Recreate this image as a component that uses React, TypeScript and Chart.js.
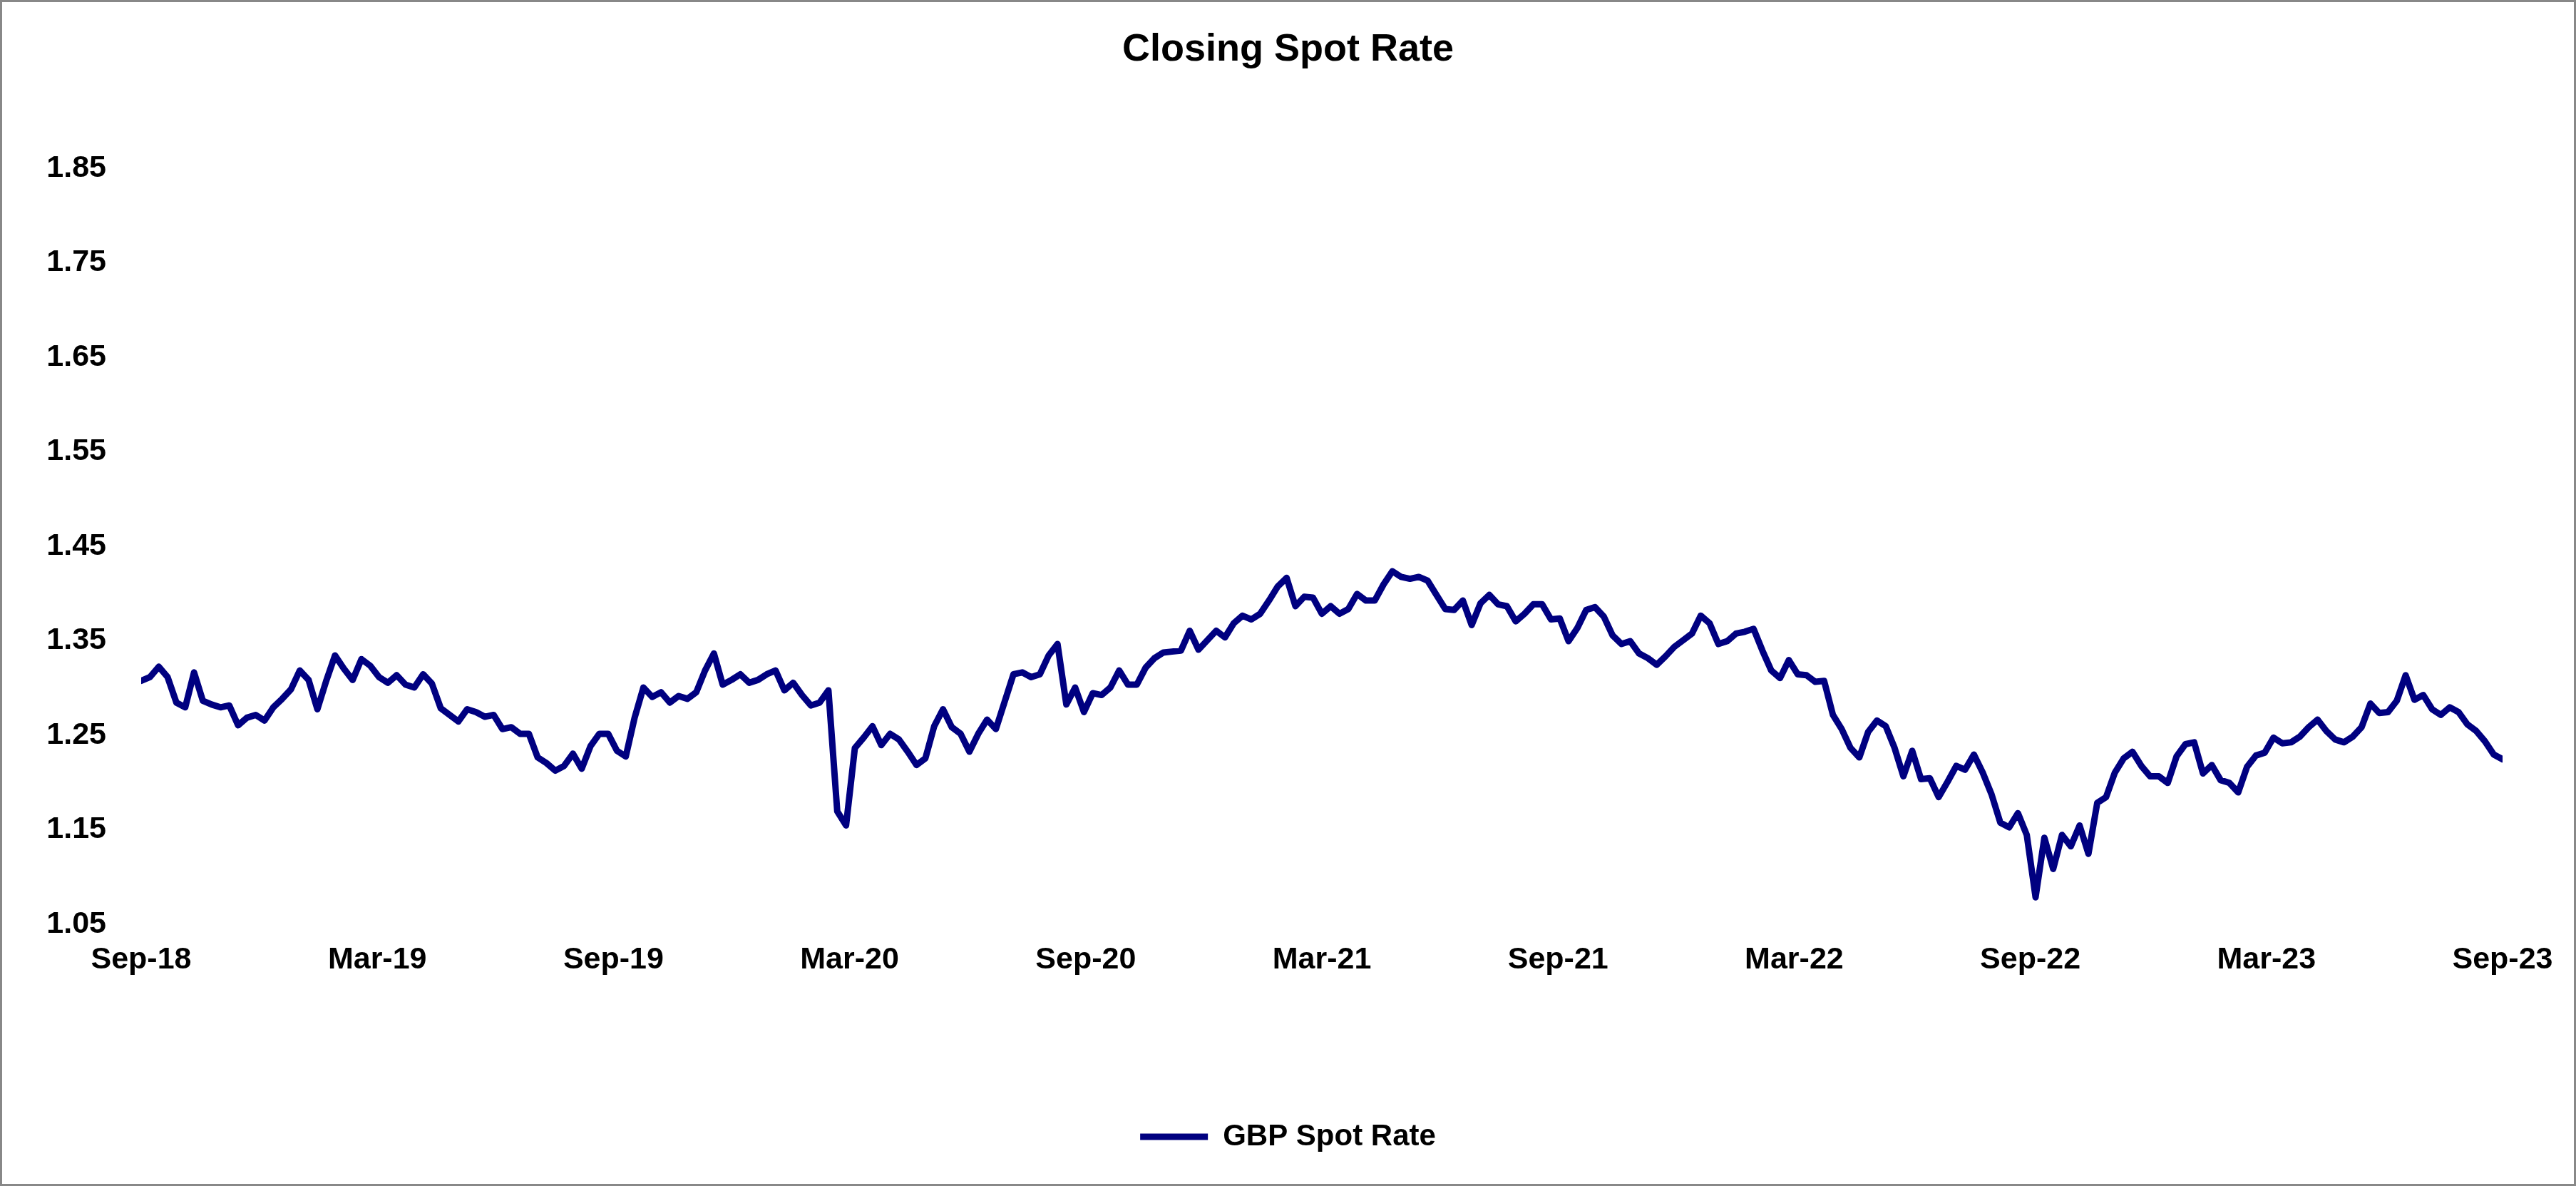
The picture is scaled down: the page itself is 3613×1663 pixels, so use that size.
import { useEffect, useRef } from "react";
import { Chart, registerables } from "chart.js";

Chart.register(...registerables);

const TITLE = "Closing Spot Rate";
const SERIES_LABEL = "GBP Spot Rate";

// x-axis tick labels (every 6 months) and their position in months since Sep-18
const X_TICK_LABELS = ["Sep-18", "Mar-19", "Sep-19", "Mar-20", "Sep-20", "Mar-21", "Sep-21", "Mar-22", "Sep-22", "Mar-23", "Sep-23"];
const X_TICK_MONTHS = [0, 6, 12, 18, 24, 30, 36, 42, 48, 54, 60];

// y-axis tick values
const Y_TICKS = [1.05, 1.15, 1.25, 1.35, 1.45, 1.55, 1.65, 1.75, 1.85];

// GBP spot rate, roughly weekly closes Sep-18 .. Sep-23
const GBP_SPOT_RATE = [
  1.303, 1.307, 1.318, 1.307, 1.280, 1.275, 1.312, 1.282, 1.278, 1.275,
  1.277, 1.256, 1.264, 1.267, 1.261, 1.275, 1.284, 1.294, 1.314, 1.304,
  1.273, 1.303, 1.330, 1.316, 1.304, 1.326, 1.319, 1.307, 1.301, 1.309,
  1.299, 1.296, 1.310, 1.300, 1.274, 1.267, 1.260, 1.273, 1.270, 1.265,
  1.267, 1.252, 1.254, 1.247, 1.247, 1.222, 1.216, 1.208, 1.213, 1.226,
  1.210, 1.234, 1.247, 1.247, 1.229, 1.223, 1.264, 1.296, 1.286, 1.291,
  1.280, 1.287, 1.284, 1.291, 1.314, 1.332, 1.299, 1.304, 1.310, 1.301,
  1.304, 1.310, 1.314, 1.293, 1.301, 1.288, 1.277, 1.280, 1.293, 1.165,
  1.150, 1.232, 1.243, 1.255, 1.235, 1.247, 1.241, 1.228, 1.214, 1.221,
  1.255, 1.273, 1.254, 1.247, 1.228, 1.247, 1.262, 1.252, 1.281, 1.310,
  1.312, 1.307, 1.310, 1.330, 1.342, 1.278, 1.296, 1.270, 1.290, 1.288,
  1.296, 1.314, 1.299, 1.299, 1.317, 1.327, 1.333, 1.334, 1.335, 1.356,
  1.336, 1.346, 1.356, 1.349, 1.364, 1.372, 1.368, 1.374, 1.388, 1.403,
  1.412, 1.382, 1.392, 1.391, 1.374, 1.382, 1.374, 1.379, 1.395, 1.388,
  1.388, 1.405, 1.419, 1.413, 1.411, 1.413, 1.409, 1.394, 1.379, 1.378,
  1.388, 1.362, 1.385, 1.394, 1.384, 1.382, 1.366, 1.374, 1.384, 1.384,
  1.368, 1.369, 1.345, 1.359, 1.378, 1.381, 1.371, 1.351, 1.342, 1.345,
  1.332, 1.327, 1.320, 1.329, 1.339, 1.346, 1.353, 1.372, 1.364, 1.342,
  1.345, 1.353, 1.355, 1.358, 1.335, 1.314, 1.306, 1.325, 1.310, 1.309,
  1.302, 1.303, 1.267, 1.252, 1.232, 1.222, 1.249, 1.261, 1.255, 1.232,
  1.202, 1.229, 1.199, 1.200, 1.180, 1.196, 1.213, 1.209, 1.225, 1.206,
  1.183, 1.153, 1.148, 1.163, 1.140, 1.074, 1.137, 1.104, 1.140, 1.128,
  1.150, 1.120, 1.174, 1.180, 1.206, 1.221, 1.228, 1.213, 1.202, 1.202,
  1.195, 1.223, 1.236, 1.238, 1.205, 1.214, 1.198, 1.195, 1.185, 1.212,
  1.224, 1.227, 1.243, 1.237, 1.238, 1.244, 1.254, 1.262, 1.250, 1.241,
  1.238, 1.244, 1.254, 1.279, 1.269, 1.270, 1.282, 1.309, 1.283, 1.288,
  1.273, 1.267, 1.275, 1.270, 1.257, 1.250, 1.239, 1.225, 1.220,
];

const FONT_FAMILY = "'Liberation Sans', Arial, Helvetica, sans-serif";
const LINE_COLOR = "#000080";

export default function App() {
  const canvasRef = useRef<HTMLCanvasElement | null>(null);

  useEffect(() => {
    const canvas = canvasRef.current;
    if (!canvas) return;
    const span = X_TICK_MONTHS[X_TICK_MONTHS.length - 1];
    const step = span / (GBP_SPOT_RATE.length - 1);
    const points = GBP_SPOT_RATE.map((v, i) => ({ x: i * step, y: v }));
    const font = (size: number) => ({ family: FONT_FAMILY, size, weight: "bold" as const });

    const chart = new Chart(canvas, {
      type: "line",
      data: {
        datasets: [
          {
            label: SERIES_LABEL,
            data: points,
            borderColor: LINE_COLOR,
            backgroundColor: LINE_COLOR,
            borderWidth: 9,
            pointRadius: 0,
            pointHoverRadius: 0,
            tension: 0,
            borderJoinStyle: "round",
            borderCapStyle: "round",
            fill: false,
          },
        ],
      },
      options: {
        animation: false,
        responsive: false,
        devicePixelRatio: 1,
        layout: { padding: { left: 0, right: 0, top: 0, bottom: 35 } },
        plugins: {
          title: {
            display: true,
            text: TITLE,
            color: "#000",
            font: font(54),
            padding: { top: 35, bottom: 127 },
          },
          legend: {
            display: true,
            position: "bottom",
            labels: {
              usePointStyle: true,
              pointStyle: "line",
              pointStyleWidth: 95,
              color: "#000",
              font: font(42),
              padding: 10,
            },
          },
          tooltip: { enabled: false },
        },
        scales: {
          x: {
            type: "linear",
            min: 0,
            max: span,
            grid: { display: false },
            border: { display: false },
            afterBuildTicks: (scale: any) => {
              scale.ticks = X_TICK_MONTHS.map((v) => ({ value: v }));
            },
            afterFit: (scale: any) => {
              scale.height = 273;
            },
            ticks: {
              autoSkip: false,
              maxRotation: 0,
              minRotation: 0,
              padding: 22,
              color: "#000",
              font: font(43),
              callback: (_v: any, idx: number) => X_TICK_LABELS[idx],
            },
          },
          y: {
            type: "linear",
            position: "left",
            min: Y_TICKS[0],
            max: Y_TICKS[Y_TICKS.length - 1],
            grid: { display: false },
            border: { display: false },
            afterBuildTicks: (scale: any) => {
              scale.ticks = Y_TICKS.map((v) => ({ value: v }));
            },
            afterFit: (scale: any) => {
              scale.width = 195;
            },
            ticks: {
              padding: 41,
              labelOffset: 6,
              color: "#000",
              font: font(43),
              callback: (v: any) => Number(v).toFixed(2),
            },
          },
          yRight: {
            type: "linear",
            position: "right",
            min: Y_TICKS[0],
            max: Y_TICKS[Y_TICKS.length - 1],
            grid: { display: false },
            border: { display: false },
            ticks: { display: false },
            afterFit: (scale: any) => {
              scale.width = 100;
            },
          },
        },
      },
    });
    return () => chart.destroy();
  }, []);

  return (
    <div
      style={{
        position: "fixed",
        left: 0,
        top: 0,
        width: 3613,
        height: 1663,
        border: "3px solid #888888",
        boxSizing: "border-box",
        background: "#ffffff",
      }}
    >
      <canvas ref={canvasRef} width={3607} height={1657} style={{ display: "block" }} />
    </div>
  );
}
